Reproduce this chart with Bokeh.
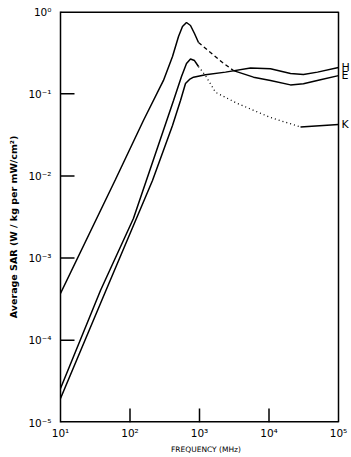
from bokeh.plotting import figure
from bokeh.models import Range1d, FixedTicker, Label
from bokeh.embed import file_html
from bokeh.resources import INLINE

# ---- data ----
freq_E = [10, 61.8, 156, 303, 409, 499, 569, 650, 742, 847, 967, 1439, 2142, 3083,
          5985, 10510, 20370, 31330, 55060, 100000]
sar_E = [3.71e-4, 9.04e-3, 0.0472, 0.145, 0.284, 0.496, 0.657, 0.735, 0.676, 0.540,
         0.420, 0.317, 0.240, 0.191, 0.159, 0.145, 0.128, 0.132, 0.148, 0.166]

freq_H = [10, 44.4, 210.7, 408.8, 533, 629, 718, 820, 1220, 2366, 5420, 10500,
          20400, 31300, 49900, 100000]
sar_H = [1.96e-5, 3.92e-4, 8.79e-3, 0.0410, 0.0827, 0.133, 0.149, 0.159, 0.170, 0.183,
         0.2055, 0.201, 0.176, 0.171, 0.183, 0.208]

freq_K = [10, 37.6, 112, 233, 423, 551, 650, 742, 847, 967, 1220, 1700, 3526, 10510,
          28400, 100000]
sar_K = [2.59e-5, 4.04e-4, 3.03e-3, 0.01874, 0.0827, 0.162, 0.233, 0.264, 0.253, 0.214,
         0.166, 0.104, 0.0760, 0.0513, 0.0394, 0.0422]

# index ranges of broken-line parts
E_dash = (10, 13)   # dashed between these indices
K_dot = (9, 14)     # dotted between these indices

x_ticks = [10, 100, 1000, 10000, 100000]
x_tick_labels = ["10¹", "10²", "10³", "10⁴", "10⁵"]
y_ticks = [1, 0.1, 0.01, 0.001, 0.0001, 0.00001]
y_tick_labels = ["10⁰", "10⁻¹", "10⁻²", "10⁻³", "10⁻⁴", "10⁻⁵"]

curve_labels = ["H", "E", "K"]
curve_label_y = [sar_H[-1], sar_E[-1], sar_K[-1]]

x_min, x_max = x_ticks[0], x_ticks[-1]
y_min, y_max = y_ticks[-1], y_ticks[0]

FONT = "DejaVu Sans"

# frame runs to the right edge of the window so that the curve labels fit
x_view_end = x_max * 10 ** (13 / 69.5)
# tick length (about 14 px) as a factor on each log axis
tick_fx = 10 ** (14 / 69.5)
tick_fy = 10 ** (14 / 82.2)

p = figure(width=351, height=457, x_axis_type="log", y_axis_type="log",
           x_range=Range1d(x_min, x_view_end), y_range=Range1d(y_min, y_max),
           output_backend="svg", toolbar_location=None,
           min_border_left=60, min_border_right=0, min_border_top=11,
           min_border_bottom=35)
p.background_fill_color = "white"
p.border_fill_color = "white"
p.outline_line_color = None
p.xgrid.visible = False
p.ygrid.visible = False

for ax, ticks, labels in ((p.xaxis[0], x_ticks, x_tick_labels), (p.yaxis[0], y_ticks, y_tick_labels)):
    ax.ticker = FixedTicker(ticks=ticks, minor_ticks=[])
    ax.major_label_overrides = {t: l for t, l in zip(ticks, labels)}
    ax.major_tick_in = 0
    ax.major_tick_out = 0
    ax.minor_tick_in = 0
    ax.minor_tick_out = 0
    ax.major_label_text_font = FONT
    ax.major_label_text_font_size = "10.5px"
    ax.major_label_text_color = "black"
    ax.axis_label_text_font = FONT
    ax.axis_label_text_font_style = "bold"
    ax.axis_label_text_color = "black"

p.yaxis.axis_line_width = 1.5
p.yaxis.axis_line_color = "black"
p.xaxis.axis_line_color = None
p.yaxis.major_label_standoff = 9
p.xaxis.major_label_standoff = 4
p.yaxis.axis_label = "Average  SAR    (W / kg  per  mW/cm²)"
p.yaxis.axis_label_text_font_size = "9.5px"
p.yaxis.axis_label_standoff = 6
p.xaxis.axis_label = "FREQUENCY (MHz)"
p.xaxis.axis_label_text_font_size = "7.5px"
p.xaxis.axis_label_text_font_style = "normal"
p.xaxis.axis_label_standoff = 3

# frame lines: bottom, top, right
p.line([x_min, x_max], [y_min, y_min], line_color="black", line_width=3)
p.line([x_min, x_max], [y_max, y_max], line_color="black", line_width=3)
p.line([x_max, x_max], [y_min, y_max], line_color="black", line_width=1.5)

# inward tick marks, one short line each
for t in y_ticks[1:-1]:
    p.line([x_min, x_min * tick_fx], [t, t], line_color="black", line_width=1.5)
for t in x_ticks[1:-1]:
    p.line([t, t], [y_min, y_min * tick_fy], line_color="black", line_width=1.5)


def draw(fx, fy, rng, dash):
    a, b = rng
    p.line(fx[:a + 1], fy[:a + 1], line_color="black", line_width=1.5)
    p.line(fx[a:b + 1], fy[a:b + 1], line_color="black", line_width=1.3, line_dash=dash)
    p.line(fx[b:], fy[b:], line_color="black", line_width=1.5)


draw(freq_E, sar_E, E_dash, "4 3")
draw(freq_K, sar_K, K_dot, "1 3")
p.line(freq_H, sar_H, line_color="black", line_width=1.5)

for t, yv in zip(curve_labels, curve_label_y):
    p.add_layout(Label(x=x_max, y=yv, text=t, x_offset=3, text_baseline="middle",
                       text_font=FONT, text_font_size="11px", text_color="black"))

open("out.html", "w").write(file_html(p, INLINE))
